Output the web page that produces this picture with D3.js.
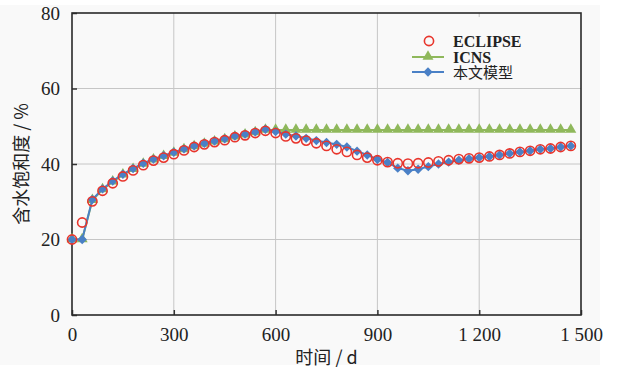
<!DOCTYPE html>
<html>
<head>
<meta charset="utf-8">
<script src="https://cdn.jsdelivr.net/npm/d3@7"></script>
<style>
  body { margin: 0; background: #ffffff; }
  svg { display: block; }
</style>
</head>
<body>
<svg id="chart"></svg>
<script>
// time in days
const days = [0, 30, 60, 90, 120, 150, 180, 210, 240, 270,
              300, 330, 360, 390, 420, 450, 480, 510, 540, 570,
              600, 630, 660, 690, 720, 750, 780, 810, 840, 870,
              900, 930, 960, 990, 1020, 1050, 1080, 1110, 1140, 1170,
              1200, 1230, 1260, 1290, 1320, 1350, 1380, 1410, 1440, 1470];

// water saturation, %
const eclipse = [20, 24.5, 30.1, 32.9, 34.9, 36.7, 38.3, 39.7, 40.9, 41.7,
                 42.6, 43.6, 44.5, 45.2, 45.8, 46.3, 47.1, 47.6, 48.2, 48.8,
                 48.2, 47.3, 46.8, 46.2, 45.5, 44.8, 43.9, 43.2, 42.4, 41.7,
                 41.0, 40.5, 40.2, 40.1, 40.2, 40.4, 40.7, 41.0, 41.3, 41.5,
                 41.7, 42.0, 42.4, 42.8, 43.2, 43.5, 43.9, 44.1, 44.5, 44.8];

const icns = [20, 20, 30.4, 33.2, 35.3, 37.1, 38.6, 40.0, 41.1, 42.0,
              42.9, 43.8, 44.6, 45.3, 45.9, 46.5, 47.2, 47.7, 48.3, 49.0,
              49.0, 49.0, 49.0, 49.0, 49.0, 49.0, 49.0, 49.0, 49.0, 49.0,
              49.0, 49.0, 49.0, 49.0, 49.0, 49.0, 49.0, 49.0, 49.0, 49.0,
              49.0, 49.0, 49.0, 49.0, 49.0, 49.0, 49.0, 49.0, 49.0, 49.0];

const model = [20, 20, 30.6, 33.4, 35.5, 37.3, 38.8, 40.2, 41.3, 42.2,
               43.1, 44.0, 44.8, 45.5, 46.1, 46.7, 47.4, 47.9, 48.5, 49.2,
               48.6, 47.9, 47.4, 46.8, 46.2, 45.7, 45.2, 44.5, 43.4, 42.4,
               41.2, 40.4, 38.9, 38.2, 38.6, 39.3, 40.0, 40.5, 41.0, 41.4,
               41.7, 42.0, 42.4, 42.8, 43.2, 43.5, 43.9, 44.1, 44.5, 44.8];

const xTicks = [0, 300, 600, 900, 1200, 1500];
const xTickLabels = ["0", "300", "600", "900", "1 200", "1 500"];
const yTicks = [0, 20, 40, 60, 80];

const seriesNames = ["ECLIPSE", "ICNS", "本文模型"];
const xTitle = "时间 / d";
const yTitle = "含水饱和度 / %";

// colours
const red = "#e8352c";
const green = "#8fb85b";
const blue = "#4a80c6";

const width = 617, height = 370;
const pad_left = 72, pad_right = 36, pad_top = 13, pad_bottom = 55;

const svg = d3.select("#chart").attr("width", width).attr("height", height);

// page panel (slightly grey, like the scanned figure)
svg.append("rect").attr("x", 0).attr("y", 5).attr("width", 600).attr("height", 360)
  .attr("fill", "#f9f9f9");

const xScale = d3.scaleLinear().domain([0, 1500]).range([pad_left, width - pad_right]);
const yScale = d3.scaleLinear().domain([0, 80]).range([height - pad_bottom, pad_top]);

const serif = "'Liberation Serif', 'DejaVu Serif', serif";
const cjk = "'Noto Sans CJK SC', sans-serif";

// grid lines
svg.append("g").selectAll("line").data(xTicks.slice(1, -1)).join("line")
  .attr("x1", d => xScale(d)).attr("x2", d => xScale(d))
  .attr("y1", yScale(0)).attr("y2", yScale(80))
  .attr("stroke", "#c6c6c6").attr("stroke-width", 1);
svg.append("g").selectAll("line").data(yTicks.slice(1, -1)).join("line")
  .attr("y1", d => yScale(d)).attr("y2", d => yScale(d))
  .attr("x1", xScale(0)).attr("x2", xScale(1500))
  .attr("stroke", "#c6c6c6").attr("stroke-width", 1);

// axes (ticks pointing inside)
const xAxis = d3.axisBottom(xScale).tickValues(xTicks)
  .tickFormat((d, i) => xTickLabels[i]).tickSizeInner(-5).tickSizeOuter(0).tickPadding(13);
const gx = svg.append("g").attr("transform", "translate(0," + yScale(0) + ")").call(xAxis);
gx.select(".domain").remove();
gx.selectAll("line").attr("stroke", "#333").attr("stroke-width", 1.5);
gx.selectAll("text").style("font", "19px " + serif).attr("fill", "#222");

const yAxis = d3.axisLeft(yScale).tickValues(yTicks).tickSizeInner(-5).tickSizeOuter(0).tickPadding(12);
const gy = svg.append("g").attr("transform", "translate(" + xScale(0) + ",0)").call(yAxis);
gy.select(".domain").remove();
gy.selectAll("line").attr("stroke", "#333").attr("stroke-width", 1.5);
gy.selectAll("text").style("font", "19px " + serif).attr("fill", "#222");

// plot frame
svg.append("rect")
  .attr("x", xScale(0)).attr("y", yScale(80))
  .attr("width", xScale(1500) - xScale(0)).attr("height", yScale(0) - yScale(80))
  .attr("fill", "none").attr("stroke", "#2a2a2a").attr("stroke-width", 1.6);

// legend box covers the grid
const legX = 392, legY = 17;
svg.append("rect").attr("x", legX).attr("y", legY).attr("width", 143).attr("height", 71)
  .attr("fill", "#f9f9f9");

const line = d3.line().x((d, i) => xScale(days[i])).y(d => yScale(d));

// ICNS
svg.append("path").datum(icns).attr("d", line)
  .attr("fill", "none").attr("stroke", green).attr("stroke-width", 2);
svg.append("g").selectAll("path").data(icns).join("path")
  .attr("d", d3.symbol(d3.symbolTriangle, 52))
  .attr("transform", (d, i) => "translate(" + xScale(days[i]) + "," + (yScale(d) - 0.5) + ")")
  .attr("fill", green);

// model
svg.append("path").datum(model).attr("d", line)
  .attr("fill", "none").attr("stroke", blue).attr("stroke-width", 2);
svg.append("g").selectAll("path").data(model).join("path")
  .attr("d", d3.symbol(d3.symbolSquare, 44))
  .attr("transform", (d, i) => "translate(" + xScale(days[i]) + "," + yScale(d) + ") rotate(45)")
  .attr("fill", blue);

// ECLIPSE
svg.append("g").selectAll("circle").data(eclipse).join("circle")
  .attr("cx", (d, i) => xScale(days[i])).attr("cy", d => yScale(d))
  .attr("r", 4.6).attr("fill", "none").attr("stroke", red).attr("stroke-width", 1.6);

// legend entries
const leg = svg.append("g");
leg.append("circle").attr("cx", 429).attr("cy", 41).attr("r", 4.6)
  .attr("fill", "none").attr("stroke", red).attr("stroke-width", 1.6);
leg.append("line").attr("x1", 412).attr("x2", 444).attr("y1", 57).attr("y2", 57)
  .attr("stroke", green).attr("stroke-width", 2);
leg.append("path").attr("d", d3.symbol(d3.symbolTriangle, 52))
  .attr("transform", "translate(428,56.5)").attr("fill", green);
leg.append("line").attr("x1", 412).attr("x2", 444).attr("y1", 72).attr("y2", 72)
  .attr("stroke", blue).attr("stroke-width", 2);
leg.append("path").attr("d", d3.symbol(d3.symbolSquare, 44))
  .attr("transform", "translate(428,72) rotate(45)").attr("fill", blue);

leg.selectAll("text").data(seriesNames).join("text")
  .attr("x", 453).attr("y", (d, i) => [47, 62.5, 78][i])
  .style("font", (d, i) => i < 2 ? "600 16px " + serif : "15px " + cjk)
  .attr("fill", "#222")
  .text(d => d);

// axis titles
svg.append("text")
  .attr("x", (xScale(0) + xScale(1500)) / 2).attr("y", 364)
  .attr("text-anchor", "middle")
  .style("font", "18px " + cjk).attr("fill", "#222")
  .text(xTitle);

svg.append("text")
  .attr("transform", "translate(28," + (yScale(0) + yScale(80)) / 2 + ") rotate(-90)")
  .attr("text-anchor", "middle")
  .style("font", "18px " + cjk).attr("fill", "#222")
  .text(yTitle);
</script>
</body>
</html>
